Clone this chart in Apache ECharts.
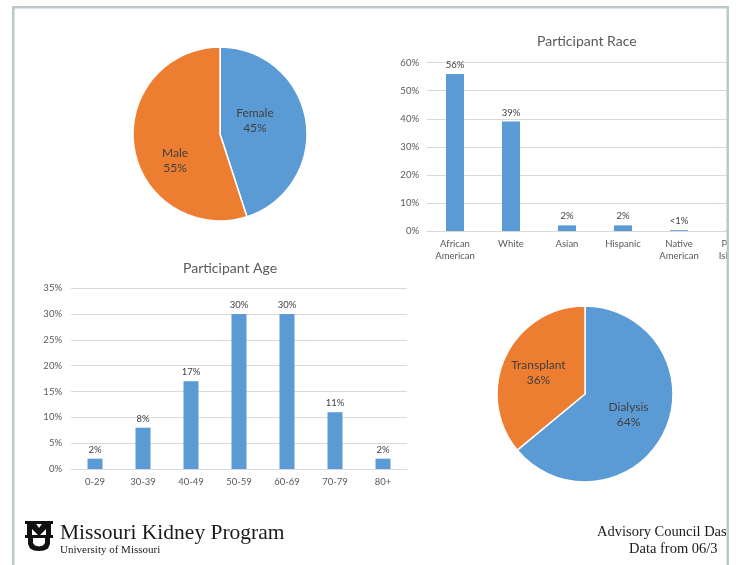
<!DOCTYPE html>
<html>
<head>
<meta charset="utf-8">
<script src="https://cdn.jsdelivr.net/npm/echarts@6/dist/echarts.min.js"></script>
<style>html,body{margin:0;padding:0;background:#fff;}#c{width:736px;height:565px;}</style>
</head>
<body>
<div id="c"></div>
<script>
const genderNames = ['Female', 'Male'];
const genderValues = [45, 55];
const raceCategories = ['African\nAmerican', 'White', 'Asian', 'Hispanic', 'Native\nAmerican', 'Pacific\nIslander'];
const raceValues = [56, 39, 2, 2, 0.3, 0.3];
const raceLabels = ['56%', '39%', '2%', '2%', '<1%', '<1%'];
const raceTicks = [0, 10, 20, 30, 40, 50, 60];
const ageCategories = ['0-29', '30-39', '40-49', '50-59', '60-69', '70-79', '80+'];
const ageValues = [2, 8, 17, 30, 30, 11, 2];
const ageTicks = [0, 5, 10, 15, 20, 25, 30, 35];
const modalityNames = ['Dialysis', 'Transplant'];
const modalityValues = [64, 36];

const BLUE = '#5b9bd5', ORANGE = '#ed7d31';
const FONT = 'Lato';
const TXT = '#595959';
const chart = echarts.init(document.getElementById('c'), null, {renderer: 'canvas'});

const axisCommon = {
  axisLine: {show: false}, axisTick: {show: false},
  splitLine: {lineStyle: {color: '#d9d9d9', width: 1}}
};
const genderShift = [[-11, -6], [1, 19]];
const modalityShift = [[1, 1], [-4, -1]];

chart.setOption({
  backgroundColor: '#ffffff',
  animation: false,
  textStyle: {fontFamily: FONT},
  title: [
    {text: 'Participant Race', left: 532, top: 29,
     textStyle: {fontFamily: FONT, fontSize: 14, fontWeight: 'normal', color: TXT}},
    {text: 'Participant Age', left: 178, top: 256,
     textStyle: {fontFamily: FONT, fontSize: 14, fontWeight: 'normal', color: TXT}}
  ],
  grid: [
    {left: 427, top: 62.7, width: 336, height: 168.3, containLabel: false, outerBoundsMode: 'none'},
    {left: 71, top: 288.3, width: 336, height: 180.7, containLabel: false, outerBoundsMode: 'none'}
  ],
  xAxis: [
    {type: 'category', gridIndex: 0, data: raceCategories,
     axisLine: {show: true, lineStyle: {color: '#d9d9d9'}}, axisTick: {show: false},
     axisLabel: {color: TXT, fontSize: 9.5, fontFamily: FONT, margin: 7, lineHeight: 12, interval: 0}},
    {type: 'category', gridIndex: 1, data: ageCategories,
     axisLine: {show: true, lineStyle: {color: '#d9d9d9'}}, axisTick: {show: false},
     axisLabel: {color: TXT, fontSize: 9.5, fontFamily: FONT, margin: 8, interval: 0}}
  ],
  yAxis: [
    Object.assign({type: 'value', gridIndex: 0, min: raceTicks[0], max: raceTicks[raceTicks.length - 1], interval: 10,
     axisLabel: {color: TXT, fontSize: 9.5, fontFamily: FONT, margin: 8, formatter: v => v + '%'}}, axisCommon),
    Object.assign({type: 'value', gridIndex: 1, min: ageTicks[0], max: ageTicks[ageTicks.length - 1], interval: 5,
     axisLabel: {color: TXT, fontSize: 9.5, fontFamily: FONT, margin: 9, formatter: v => v + '%'}}, axisCommon)
  ],
  series: [
    {type: 'pie', center: [220, 134], radius: 87, startAngle: 90, clockwise: true,
     itemStyle: {borderColor: '#fff', borderWidth: 1.5},
     label: {position: 'inside', color: '#404040', fontSize: 12, fontFamily: FONT, lineHeight: 15,
             formatter: p => p.name + '\n' + p.value + '%'},
     labelLine: {show: false},
     labelLayout: p => ({dx: genderShift[p.dataIndex][0], dy: genderShift[p.dataIndex][1]}),
     data: [
       {name: genderNames[0], value: genderValues[0], itemStyle: {color: BLUE}},
       {name: genderNames[1], value: genderValues[1], itemStyle: {color: ORANGE}}
     ]},
    {type: 'pie', center: [585, 394], radius: 88, startAngle: 90, clockwise: true,
     itemStyle: {borderColor: '#fff', borderWidth: 1.5},
     label: {position: 'inside', color: '#404040', fontSize: 12, fontFamily: FONT, lineHeight: 15,
             formatter: p => p.name + '\n' + p.value + '%'},
     labelLine: {show: false},
     labelLayout: p => ({dx: modalityShift[p.dataIndex][0], dy: modalityShift[p.dataIndex][1]}),
     data: [
       {name: modalityNames[0], value: modalityValues[0], itemStyle: {color: BLUE}},
       {name: modalityNames[1], value: modalityValues[1], itemStyle: {color: ORANGE}}
     ]},
    {type: 'bar', xAxisIndex: 0, yAxisIndex: 0, barWidth: 18, itemStyle: {color: BLUE},
     label: {show: true, position: 'top', distance: 4, color: '#404040', fontSize: 9.5, fontFamily: FONT,
             formatter: p => raceLabels[p.dataIndex]},
     data: raceValues},
    {type: 'bar', xAxisIndex: 1, yAxisIndex: 1, barWidth: 15, itemStyle: {color: BLUE},
     label: {show: true, position: 'top', distance: 4, color: '#404040', fontSize: 9.5, fontFamily: FONT,
             formatter: p => p.value + '%'},
     data: ageValues}
  ],
  graphic: [
    {type: 'rect', z: 100, shape: {x: 729, y: 0, width: 10, height: 565}, style: {fill: '#ffffff'}},
    {type: 'rect', z: 100, shape: {x: 0, y: 0, width: 736, height: 6}, style: {fill: '#ffffff'}},
    {type: 'rect', z: 101, shape: {x: 12, y: 6, width: 717, height: 2.5}, style: {fill: '#b9c9c9'}},
    {type: 'rect', z: 101, shape: {x: 12, y: 6, width: 2.5, height: 559}, style: {fill: '#b9c9c9'}},
    {type: 'rect', z: 101, shape: {x: 726.5, y: 6, width: 2.5, height: 559}, style: {fill: '#b9c9c9'}},
    {type: 'group', x: 25, y: 521, z: 101, children: [
      {type: 'rect', shape: {x: 0, y: 0, width: 28, height: 3}, style: {fill: '#111'}},
      {type: 'polygon', shape: {points: [[2,0],[9,0],[14,7],[19,0],[26,0],[26,15],[21,15],[21,8],[14,15],[7,8],[7,15],[2,15]]}, style: {fill: '#111'}},
      {type: 'rect', shape: {x: 0, y: 14, width: 28, height: 3}, style: {fill: '#111'}},
      {type: 'polygon', shape: {points: [[3,17],[8,17],[8,22],[10,24.5],[14,25.5],[18,24.5],[20,22],[20,17],[25,17],[25,23],[23,27.5],[19,29.5],[14,30],[9,29.5],[5,27.5],[3,23]]}, style: {fill: '#111'}}
    ]},
    {type: 'text', z: 101, style: {text: 'Missouri Kidney Program', x: 60, y: 533, verticalAlign: 'middle', fontFamily: 'Liberation Serif', fontSize: 21.5, fill: '#1a1a1a'}},
    {type: 'text', z: 101, style: {text: 'University of Missouri', x: 60, y: 550, verticalAlign: 'middle', fontFamily: 'Liberation Serif', fontSize: 11, fill: '#1a1a1a'}},
    {type: 'text', z: 99, style: {text: 'Advisory Council Das', x: 597, y: 532, verticalAlign: 'middle', fontFamily: 'Liberation Serif', fontSize: 14.5, fill: '#1a1a1a'}},
    {type: 'text', z: 99, style: {text: 'Data from 06/3', x: 629, y: 549, verticalAlign: 'middle', fontFamily: 'Liberation Serif', fontSize: 14.5, fill: '#1a1a1a'}}
  ]
});
</script>
</body>
</html>
